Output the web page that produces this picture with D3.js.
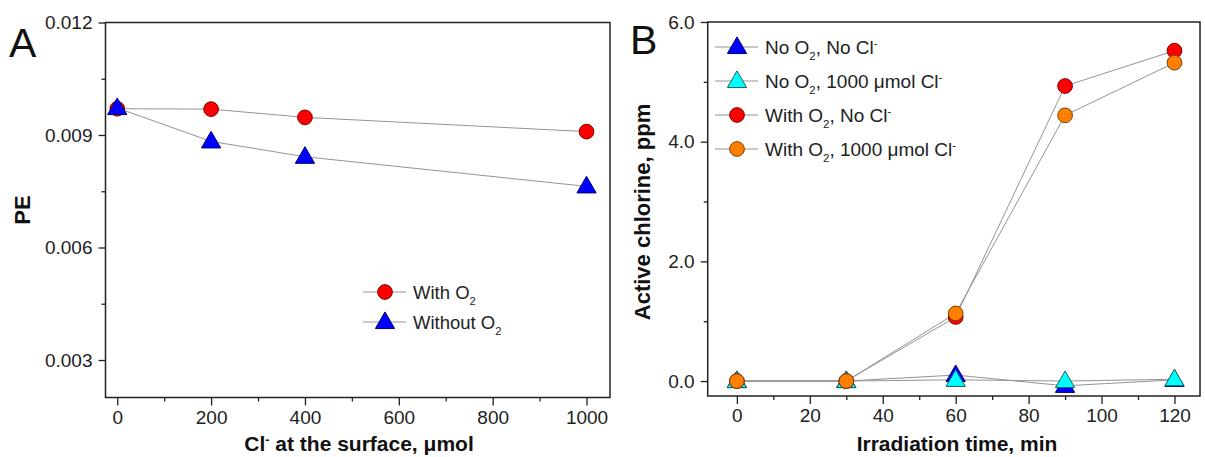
<!DOCTYPE html>
<html>
<head>
<meta charset="utf-8">
<script src="https://cdn.jsdelivr.net/npm/d3@7"></script>
<style>
  body { margin: 0; background: #fff; }
  svg { font-family: "Liberation Sans", Arial, sans-serif; }
  .tick line { stroke: #222; stroke-width: 1.3; }
</style>
</head>
<body>
<div id="chart"></div>
<script>
// panel A
var clSurface = [0, 200, 400, 1000];
var peWithO2 = [0.0097, 0.00969, 0.00947, 0.00909];
var peWithoutO2 = [0.00972, 0.00883, 0.00842, 0.00763];
var aYTicks = [0.003, 0.006, 0.009, 0.012];
var aYMinor = [0.0045, 0.0075, 0.0105];
var aXTicks = [0, 200, 400, 600, 800, 1000];
var aXMinor = [100, 300, 500, 700, 900];

// panel B
var irrTime = [0, 30, 60, 90, 120];
var noO2NoCl = [0, 0, 0.1, -0.08, 0.02];
var noO2Cl = [0, 0, 0.02, 0.0, 0.03];
var withO2NoCl = [0, 0, 1.07, 4.93, 5.52];
var withO2Cl = [0, 0, 1.13, 4.44, 5.32];
var bYTicks = [0, 2, 4, 6];
var bYMinor = [1, 3, 5];
var bXTicks = [0, 20, 40, 60, 80, 100, 120];
var bXMinor = [10, 30, 50, 70, 90, 110];

var W = 1205, H = 457;
var svg = d3.select("#chart").append("svg").attr("width", W).attr("height", H);

function styleTicks(g) {
    g.select(".domain").remove();
    g.attr("font-family", "Liberation Sans, Arial, sans-serif").attr("font-size", 19);
    g.selectAll(".tick text").attr("fill", "#222");
}

function drawAxes(x, y, xt, xm, yt, ym, yfmt, xfmt) {
    var r = x.range(), b = y.range();
    svg.append("g").attr("transform", "translate(0," + b[0] + ")")
        .call(d3.axisBottom(x).tickValues(xt).tickSize(8).tickPadding(5).tickFormat(xfmt))
        .call(styleTicks);
    svg.append("g").attr("transform", "translate(0," + b[0] + ")")
        .call(d3.axisBottom(x).tickValues(xm).tickSize(4).tickFormat(""))
        .call(styleTicks);
    svg.append("g").attr("transform", "translate(" + r[0] + ",0)")
        .call(d3.axisLeft(y).tickValues(yt).tickSize(7).tickPadding(6).tickFormat(yfmt))
        .call(styleTicks);
    svg.append("g").attr("transform", "translate(" + r[0] + ",0)")
        .call(d3.axisLeft(y).tickValues(ym).tickSize(4).tickFormat(""))
        .call(styleTicks);
    svg.append("rect")
        .attr("x", r[0]).attr("y", b[1])
        .attr("width", r[1] - r[0]).attr("height", b[0] - b[1])
        .attr("fill", "none").attr("stroke", "#222").attr("stroke-width", 1.5);
}

function drawSeries(x, y, xs, ys) {
    var pts = xs.map(function(d, i) { return [d, ys[i]]; });
    var line = d3.line().x(function(d) { return x(d[0]); }).y(function(d) { return y(d[1]); });
    svg.append("path").datum(pts)
        .attr("d", line).attr("fill", "none").attr("stroke", "#949494").attr("stroke-width", 1);
    return pts;
}

function drawMarkers(x, y, pts, shape, fill, edge) {
    var sym = d3.symbol().type(shape == "tri" ? d3.symbolTriangle : d3.symbolCircle)
        .size(shape == "tri" ? 160 : 170);
    svg.selectAll(null).data(pts).enter().append("path")
        .attr("d", sym)
        .attr("transform", function(d) {
            return "translate(" + x(d[0]) + "," + (y(d[1]) + (shape == "tri" ? 1 : 0)) + ")";
        })
        .attr("fill", fill).attr("stroke", edge).attr("stroke-width", 1);
}

// text with sub/superscript parts: [text, "sub"|"sup"|""]
function richText(g, parts, fs) {
    var t = g.append("text").attr("font-size", fs + "px").attr("fill", "#222");
    var shift = 0;
    parts.forEach(function(p) {
        var target = p[1] == "sub" ? 6 : p[1] == "sup" ? -7 : 0;
        t.append("tspan")
            .attr("dy", target - shift)
            .attr("font-size", p[1] ? (fs * 0.6) + "px" : null)
            .text(p[0]);
        shift = target;
    });
    return t;
}

function legendRow(x0, yy, shape, fill, edge, parts, fs) {
    svg.append("line").attr("x1", x0).attr("x2", x0 + 43).attr("y1", yy).attr("y2", yy)
        .attr("stroke", "#949494").attr("stroke-width", 1);
    drawMarkers(function(d) { return d; }, function(d) { return d; }, [[x0 + 22, yy]], shape, fill, edge);
    richText(svg.append("g").attr("transform", "translate(" + (x0 + 50) + "," + (yy + 6.5) + ")"), parts, fs);
}

// ---- panel A ----
var xA = d3.scaleLinear().domain([-25, 1050]).range([105.5, 610]);
var yA = d3.scaleLinear().domain([0.002, 0.012]).range([397.5, 22.5]);
drawAxes(xA, yA, aXTicks, aXMinor, aYTicks, aYMinor, d3.format(".3f"), d3.format("d"));

var pA1 = drawSeries(xA, yA, clSurface, peWithO2);
var pA2 = drawSeries(xA, yA, clSurface, peWithoutO2);
drawMarkers(xA, yA, pA1, "circle", "#ff0000", "#7a0000");
drawMarkers(xA, yA, pA2, "tri", "#0000ff", "#00006e");

legendRow(363, 292, "circle", "#ff0000", "#7a0000", [["With O", ""], ["2", "sub"]], 18.5);
legendRow(363, 322, "tri", "#0000ff", "#00006e", [["Without O", ""], ["2", "sub"]], 18.5);

svg.append("text").attr("x", 9).attr("y", 57).attr("font-size", "41px").attr("fill", "#111").text("A");
svg.append("text").attr("transform", "translate(30,210) rotate(-90)")
    .attr("text-anchor", "middle").attr("font-size", "22px").attr("font-weight", "bold").attr("fill", "#111")
    .text("PE");
var tA = richText(svg.append("g").attr("transform", "translate(359,451)"),
    [["Cl", ""], ["-", "sup"], [" at the surface, \u03bcmol", ""]], 21);
tA.attr("text-anchor", "middle").attr("font-weight", "bold").attr("fill", "#111");

// ---- panel B ----
var xB = d3.scaleLinear().domain([-8, 127]).range([707.7, 1200]);
var yB = d3.scaleLinear().domain([-0.25, 6]).range([396, 22]);
drawAxes(xB, yB, bXTicks, bXMinor, bYTicks, bYMinor, d3.format(".1f"), d3.format("d"));

var pB1 = drawSeries(xB, yB, irrTime, noO2NoCl);
var pB2 = drawSeries(xB, yB, irrTime, noO2Cl);
var pB3 = drawSeries(xB, yB, irrTime, withO2NoCl);
var pB4 = drawSeries(xB, yB, irrTime, withO2Cl);
drawMarkers(xB, yB, pB1, "tri", "#0000ff", "#00006e");
drawMarkers(xB, yB, pB2, "tri", "#00ffff", "#1a5f5f");
drawMarkers(xB, yB, pB3, "circle", "#ff0000", "#7a0000");
drawMarkers(xB, yB, pB4, "circle", "#ff8000", "#7a3d00");

legendRow(715, 47, "tri", "#0000ff", "#00006e", [["No O", ""], ["2", "sub"], [", No Cl", ""], ["-", "sup"]], 19);
legendRow(715, 81, "tri", "#00ffff", "#1a5f5f", [["No O", ""], ["2", "sub"], [", 1000 \u03bcmol Cl", ""], ["-", "sup"]], 19);
legendRow(715, 115, "circle", "#ff0000", "#7a0000", [["With O", ""], ["2", "sub"], [", No Cl", ""], ["-", "sup"]], 19);
legendRow(715, 149, "circle", "#ff8000", "#7a3d00", [["With O", ""], ["2", "sub"], [", 1000 \u03bcmol Cl", ""], ["-", "sup"]], 19);

svg.append("text").attr("x", 630).attr("y", 54).attr("font-size", "41px").attr("fill", "#111").text("B");
svg.append("text").attr("transform", "translate(650,212) rotate(-90)")
    .attr("text-anchor", "middle").attr("font-size", "22px").attr("font-weight", "bold").attr("fill", "#111")
    .text("Active chlorine, ppm");
svg.append("text").attr("x", 957).attr("y", 451)
    .attr("text-anchor", "middle").attr("font-size", "21px").attr("font-weight", "bold").attr("fill", "#111")
    .text("Irradiation time, min");
</script>
</body>
</html>
